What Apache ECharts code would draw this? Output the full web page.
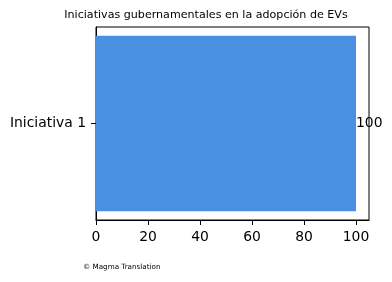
<!DOCTYPE html>
<html><head><meta charset="utf-8">
<script src="https://cdn.jsdelivr.net/npm/echarts@6/dist/echarts.min.js"></script>
<style>html,body{margin:0;padding:0;background:#fff}#c{width:392px;height:282px}</style>
</head><body><div id="c"></div>
<script>
const titleText = 'Iniciativas gubernamentales en la adopción de EVs';
const categories = ['Iniciativa 1'];
const values = [100];
const xTicks = [0, 20, 40, 60, 80, 100];
const footer = '© Magma Translation';

const font = 'DejaVu Sans';
const chart = echarts.init(document.getElementById('c'), null, {renderer: 'canvas'});
chart.setOption({
  animation: false,
  backgroundColor: '#fff',
  grid: {left: 96, right: 23, top: 27, bottom: 62, show: true, borderColor: '#000', borderWidth: 1, backgroundColor: 'transparent'},
  xAxis: {
    type: 'value', min: 0, max: 105,
    axisLine: {show: true, onZero: false, lineStyle: {color: '#000', width: 1}},
    axisTick: {show: true, length: 5, lineStyle: {color: '#000'}, customValues: xTicks},
    axisLabel: {color: '#000', fontFamily: font, fontSize: 13.9, margin: 10, customValues: xTicks},
    splitLine: {show: false}
  },
  yAxis: {
    type: 'category', data: categories,
    axisLine: {show: true, lineStyle: {color: '#000', width: 1}},
    axisTick: {show: true, length: 5, alignWithLabel: true, lineStyle: {color: '#000'}},
    axisLabel: {color: '#000', fontFamily: font, fontSize: 13.9, margin: 10}
  },
  series: [{
    type: 'bar', data: values, barCategoryGap: '9%',
    itemStyle: {color: '#4a90e2'},
    label: {show: true, position: 'right', distance: 0, color: '#000', fontFamily: font, fontSize: 13.9}
  }],
  graphic: [{
    type: 'text', x: 206, y: 15,
    style: {text: titleText, fontFamily: font, fontSize: 11.1, fill: '#000', align: 'center', verticalAlign: 'middle'}
  }, {
    type: 'text', left: 83, top: 264,
    style: {text: footer, fontFamily: font, fontSize: 7.2, fill: '#000'}
  }]
});
</script></body></html>
